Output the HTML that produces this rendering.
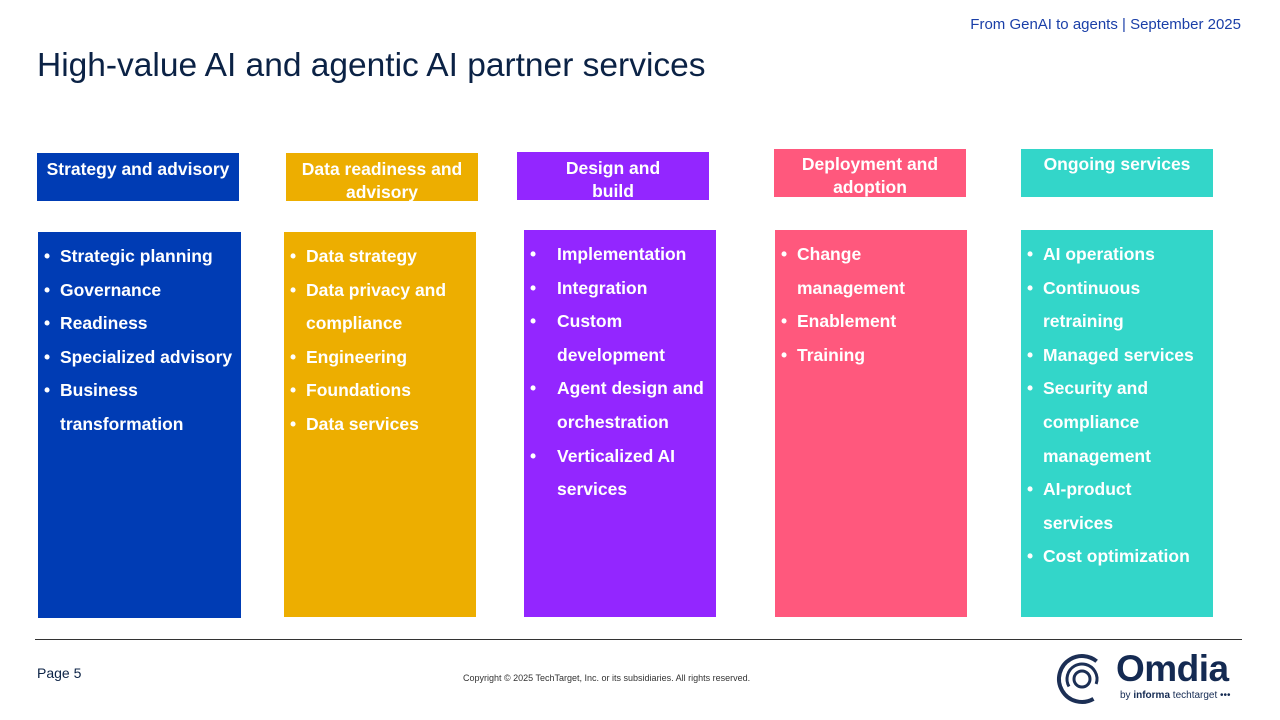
<!DOCTYPE html>
<html><head><meta charset="utf-8"><style>
body{margin:0;width:1280px;height:720px;background:#fff;position:relative;overflow:hidden;font-family:"Liberation Sans",sans-serif}
.a{position:absolute}
.h{color:#fff;font-weight:bold;font-size:17.5px;text-align:center;line-height:23px;box-sizing:border-box;padding-top:5px;white-space:nowrap}
.b{color:#fff;font-weight:bold;font-size:17.5px;line-height:33.6px;box-sizing:border-box;padding-top:8px;white-space:nowrap}
.b div{position:relative;padding-left:16px}
.b div::before{content:"•";position:absolute;left:0}
.b.w div{padding-left:27px}
</style></head><body>
<div class="a" style="right:39px;top:16px;font-size:15px;color:#1a3fa8">From GenAI to agents | September 2025</div>
<div class="a" style="left:37px;top:47px;font-size:33.5px;color:#0b2245">High-value AI and agentic AI partner services</div>

<div class="a h" style="left:37px;top:153px;width:202px;height:48px;background:#003CB4">Strategy and advisory</div>
<div class="a h" style="left:286px;top:153px;width:192px;height:48px;background:#EDAE00">Data readiness and<br>advisory</div>
<div class="a h" style="left:517px;top:152px;width:192px;height:48px;background:#9326FF">Design and<br>build</div>
<div class="a h" style="left:774px;top:149px;width:192px;height:48px;background:#FF587D;padding-top:4px">Deployment and<br>adoption</div>
<div class="a h" style="left:1021px;top:149px;width:192px;height:48px;background:#33D6C9;padding-top:4px">Ongoing services</div>

<div class="a b" style="left:38px;top:232px;width:203px;height:386px;background:#003CB4;padding-left:6px">
<div>Strategic planning</div><div>Governance</div><div>Readiness</div><div>Specialized advisory</div><div>Business<br>transformation</div></div>
<div class="a b" style="left:284px;top:232px;width:192px;height:385px;background:#EDAE00;padding-left:6px">
<div>Data strategy</div><div>Data privacy and<br>compliance</div><div>Engineering</div><div>Foundations</div><div>Data services</div></div>
<div class="a b w" style="left:524px;top:230px;width:192px;height:387px;background:#9326FF;padding-left:6px;padding-top:8px">
<div>Implementation</div><div>Integration</div><div>Custom<br>development</div><div>Agent design and<br>orchestration</div><div>Verticalized AI<br>services</div></div>
<div class="a b" style="left:775px;top:230px;width:192px;height:387px;background:#FF587D;padding-left:6px;padding-top:8px">
<div>Change<br>management</div><div>Enablement</div><div>Training</div></div>
<div class="a b" style="left:1021px;top:230px;width:192px;height:387px;background:#33D6C9;padding-left:6px;padding-top:8px">
<div>AI operations</div><div>Continuous<br>retraining</div><div>Managed services</div><div>Security and<br>compliance<br>management</div><div>AI-product<br>services</div><div>Cost optimization</div></div>

<div class="a" style="left:35px;top:639px;width:1207px;height:1px;background:#333"></div>
<div class="a" style="left:37px;top:665px;font-size:14px;color:#0b2245">Page 5</div>
<div class="a" style="left:463px;top:673px;font-size:9px;color:#333">Copyright © 2025 TechTarget, Inc. or its subsidiaries. All rights reserved.</div>
<svg class="a" style="left:1055px;top:652px" width="56" height="54" viewBox="0 0 56 54">
<circle cx="27" cy="27" r="23" fill="none" stroke="#1c2f55" stroke-width="4" stroke-dasharray="100 45" transform="rotate(60 27 27)"/>
<circle cx="27" cy="27" r="15" fill="none" stroke="#1c2f55" stroke-width="3" stroke-dasharray="60 35" transform="rotate(150 27 27)"/>
<circle cx="27" cy="27" r="8" fill="none" stroke="#1c2f55" stroke-width="3"/>
</svg>
<div class="a" style="left:1116px;top:648px;font-size:37px;font-weight:bold;color:#142a52;letter-spacing:-0.5px">Omdia</div>
<div class="a" style="left:1120px;top:690px;font-size:10px;color:#142a52">by <b>informa</b> techtarget •••</div>
</body></html>
